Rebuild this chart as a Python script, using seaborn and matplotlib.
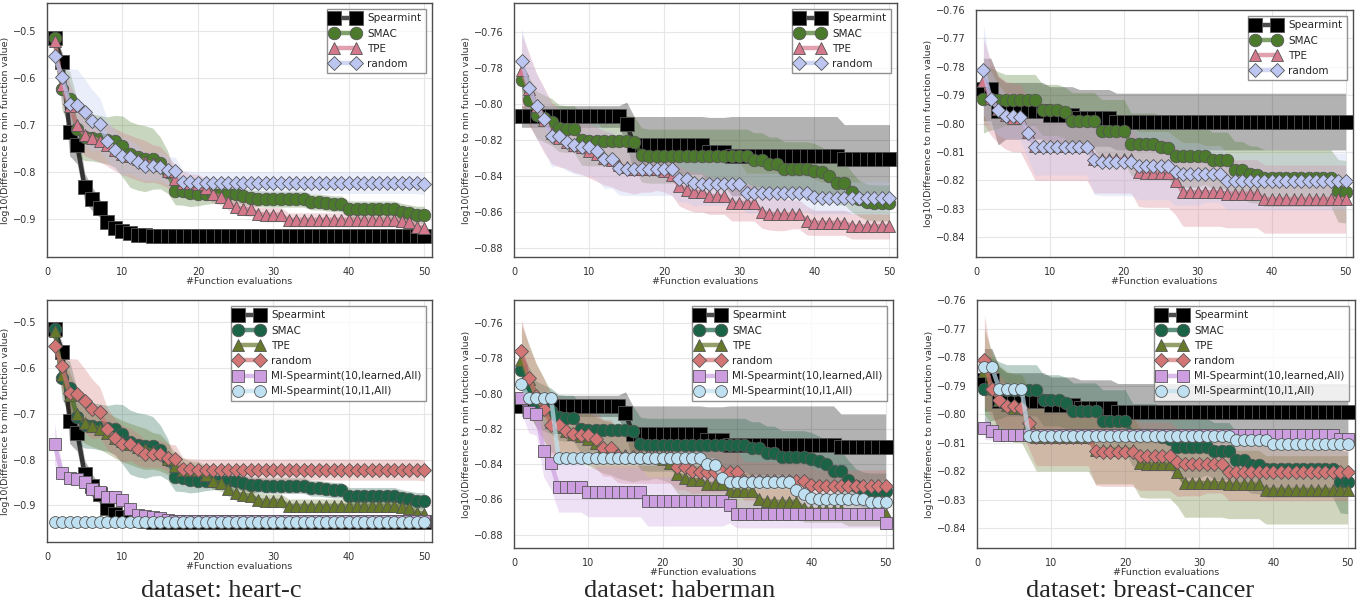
import matplotlib
matplotlib.use("Agg")
import matplotlib.pyplot as plt
import seaborn as sns
import numpy as np
from matplotlib.colors import to_rgba

# x axis: number of function evaluations
evals = list(range(1, 51))

# ---------------- heart-c ----------------
hc_spear = [
    -0.515, -0.565, -0.715, -0.742, -0.832, -0.857, -0.876, -0.905, -0.918, -0.925,
    -0.928, -0.933, -0.934, -0.936, -0.936, -0.936, -0.936, -0.936, -0.936, -0.936,
    -0.936, -0.936, -0.936, -0.936, -0.936, -0.936, -0.936, -0.936, -0.936, -0.936,
    -0.936, -0.936, -0.936, -0.936, -0.936, -0.936, -0.936, -0.936, -0.936, -0.936,
    -0.936, -0.936, -0.936, -0.936, -0.936, -0.936, -0.936, -0.936, -0.936, -0.936]
hc_spear_sd = [
    0.010, 0.020, 0.050, 0.040, 0.030, 0.025, 0.020, 0.015, 0.010, 0.008,
    0.006, 0.005, 0.004, 0.003, 0.003, 0.003, 0.003, 0.003, 0.003, 0.003,
    0.003, 0.003, 0.003, 0.003, 0.003, 0.003, 0.003, 0.003, 0.003, 0.003,
    0.003, 0.003, 0.003, 0.003, 0.003, 0.003, 0.003, 0.003, 0.003, 0.003,
    0.003, 0.003, 0.003, 0.003, 0.003, 0.003, 0.003, 0.003, 0.003, 0.003]
hc_smac = [
    -0.515, -0.623, -0.645, -0.707, -0.725, -0.726, -0.729, -0.732, -0.734, -0.745,
    -0.762, -0.768, -0.771, -0.771, -0.780, -0.800, -0.839, -0.840, -0.845, -0.846,
    -0.846, -0.846, -0.846, -0.847, -0.847, -0.851, -0.855, -0.856, -0.857, -0.857,
    -0.857, -0.857, -0.857, -0.857, -0.863, -0.863, -0.865, -0.867, -0.867, -0.879,
    -0.879, -0.879, -0.879, -0.879, -0.879, -0.879, -0.884, -0.887, -0.890, -0.890]
hc_smac_sd = [
    0.008, 0.045, 0.060, 0.060, 0.050, 0.050, 0.050, 0.050, 0.055, 0.065,
    0.070, 0.070, 0.070, 0.065, 0.055, 0.045, 0.030, 0.030, 0.028, 0.025,
    0.022, 0.020, 0.018, 0.018, 0.018, 0.018, 0.017, 0.017, 0.017, 0.017,
    0.017, 0.017, 0.017, 0.017, 0.017, 0.017, 0.017, 0.017, 0.017, 0.018,
    0.018, 0.018, 0.018, 0.018, 0.018, 0.018, 0.018, 0.018, 0.018, 0.018]
hc_tpe = [
    -0.520, -0.615, -0.660, -0.700, -0.720, -0.727, -0.733, -0.742, -0.752, -0.760,
    -0.766, -0.772, -0.777, -0.781, -0.785, -0.798, -0.815, -0.822, -0.823, -0.824,
    -0.833, -0.847, -0.852, -0.864, -0.874, -0.877, -0.879, -0.889, -0.890, -0.890,
    -0.890, -0.901, -0.901, -0.901, -0.901, -0.901, -0.901, -0.901, -0.901, -0.901,
    -0.901, -0.901, -0.901, -0.901, -0.901, -0.901, -0.904, -0.906, -0.916, -0.918]
hc_tpe_sd = [
    0.010, 0.040, 0.050, 0.050, 0.045, 0.045, 0.045, 0.045, 0.045, 0.045,
    0.045, 0.045, 0.045, 0.040, 0.040, 0.035, 0.030, 0.025, 0.020, 0.020,
    0.020, 0.018, 0.017, 0.016, 0.015, 0.015, 0.015, 0.015, 0.015, 0.015,
    0.015, 0.015, 0.015, 0.015, 0.015, 0.015, 0.015, 0.015, 0.015, 0.015,
    0.015, 0.015, 0.015, 0.015, 0.015, 0.015, 0.014, 0.013, 0.012, 0.012]
hc_random = [
    -0.553, -0.597, -0.655, -0.656, -0.672, -0.690, -0.697, -0.733, -0.752, -0.766,
    -0.767, -0.777, -0.787, -0.787, -0.788, -0.796, -0.798, -0.821, -0.821, -0.822,
    -0.822, -0.822, -0.822, -0.822, -0.822, -0.822, -0.822, -0.822, -0.822, -0.822,
    -0.822, -0.822, -0.822, -0.822, -0.822, -0.822, -0.822, -0.822, -0.822, -0.822,
    -0.822, -0.822, -0.822, -0.822, -0.822, -0.822, -0.822, -0.822, -0.822, -0.824]
hc_random_sd = [
    0.015, 0.050, 0.075, 0.075, 0.070, 0.065, 0.055, 0.045, 0.040, 0.040,
    0.035, 0.035, 0.030, 0.030, 0.030, 0.030, 0.030, 0.025, 0.023, 0.023,
    0.023, 0.023, 0.023, 0.023, 0.023, 0.023, 0.023, 0.023, 0.023, 0.023,
    0.023, 0.023, 0.023, 0.023, 0.023, 0.023, 0.023, 0.023, 0.023, 0.023,
    0.023, 0.023, 0.023, 0.023, 0.023, 0.023, 0.023, 0.023, 0.023, 0.023]
hc_mi_learned = [
    -0.767, -0.830, -0.840, -0.843, -0.850, -0.865, -0.872, -0.881, -0.882, -0.889,
    -0.909, -0.921, -0.923, -0.925, -0.928, -0.932, -0.934, -0.934, -0.934, -0.934,
    -0.934, -0.934, -0.934, -0.934, -0.934, -0.934, -0.934, -0.934, -0.934, -0.934,
    -0.934, -0.934, -0.934, -0.934, -0.934, -0.934, -0.934, -0.934, -0.934, -0.934,
    -0.934, -0.934, -0.934, -0.934, -0.934, -0.934, -0.934, -0.934, -0.934, -0.935]
hc_mi_learned_sd = [
    0.045, 0.015, 0.010, 0.010, 0.012, 0.012, 0.012, 0.014, 0.014, 0.014,
    0.010, 0.008, 0.006, 0.005, 0.004, 0.003, 0.003, 0.003, 0.003, 0.003,
    0.003, 0.003, 0.003, 0.003, 0.003, 0.003, 0.003, 0.003, 0.003, 0.003,
    0.003, 0.003, 0.003, 0.003, 0.003, 0.003, 0.003, 0.003, 0.003, 0.003,
    0.003, 0.003, 0.003, 0.003, 0.003, 0.003, 0.003, 0.003, 0.003, 0.003]
hc_mi_l1 = [
    -0.936, -0.936, -0.936, -0.936, -0.936, -0.936, -0.936, -0.936, -0.936, -0.936,
    -0.936, -0.936, -0.936, -0.936, -0.936, -0.936, -0.936, -0.936, -0.936, -0.936,
    -0.936, -0.936, -0.936, -0.936, -0.936, -0.936, -0.936, -0.936, -0.936, -0.936,
    -0.936, -0.936, -0.936, -0.936, -0.936, -0.936, -0.936, -0.936, -0.936, -0.936,
    -0.936, -0.936, -0.936, -0.936, -0.936, -0.936, -0.936, -0.936, -0.936, -0.936]
hc_mi_l1_sd = [
    0.001, 0.001, 0.001, 0.001, 0.001, 0.001, 0.001, 0.001, 0.001, 0.001,
    0.001, 0.001, 0.001, 0.001, 0.001, 0.001, 0.001, 0.001, 0.001, 0.001,
    0.001, 0.001, 0.001, 0.001, 0.001, 0.001, 0.001, 0.001, 0.001, 0.001,
    0.001, 0.001, 0.001, 0.001, 0.001, 0.001, 0.001, 0.001, 0.001, 0.001,
    0.001, 0.001, 0.001, 0.001, 0.001, 0.001, 0.001, 0.001, 0.001, 0.001]

# ---------------- haberman ----------------
hb_spear = [
    -0.807, -0.807, -0.807, -0.807, -0.807, -0.807, -0.807, -0.807, -0.807, -0.807,
    -0.807, -0.807, -0.807, -0.807, -0.811, -0.823, -0.823, -0.823, -0.823, -0.823,
    -0.823, -0.823, -0.823, -0.823, -0.823, -0.8265, -0.8265, -0.8265, -0.829, -0.829,
    -0.829, -0.829, -0.829, -0.829, -0.829, -0.829, -0.829, -0.829, -0.829, -0.829,
    -0.829, -0.829, -0.829, -0.8305, -0.8305, -0.8305, -0.8305, -0.8305, -0.8305, -0.8305]
hb_spear_sd = [
    0.006, 0.006, 0.006, 0.006, 0.006, 0.006, 0.006, 0.006, 0.006, 0.006,
    0.006, 0.006, 0.006, 0.006, 0.012, 0.016, 0.016, 0.016, 0.016, 0.016,
    0.016, 0.016, 0.016, 0.016, 0.016, 0.019, 0.019, 0.019, 0.022, 0.022,
    0.022, 0.022, 0.022, 0.022, 0.022, 0.022, 0.022, 0.022, 0.022, 0.022,
    0.022, 0.022, 0.022, 0.019, 0.019, 0.019, 0.019, 0.019, 0.019, 0.019]
hb_smac = [
    -0.7865, -0.798, -0.806, -0.808, -0.810, -0.8135, -0.814, -0.814, -0.820, -0.8204,
    -0.8204, -0.8204, -0.8204, -0.8204, -0.8204, -0.821, -0.8284, -0.829, -0.829, -0.829,
    -0.829, -0.829, -0.829, -0.829, -0.829, -0.829, -0.829, -0.829, -0.829, -0.829,
    -0.829, -0.831, -0.831, -0.8334, -0.8334, -0.836, -0.836, -0.836, -0.836, -0.837,
    -0.838, -0.840, -0.844, -0.844, -0.849, -0.8526, -0.8545, -0.855, -0.855, -0.855]
hb_smac_sd = [
    0.010, 0.013, 0.013, 0.013, 0.013, 0.013, 0.013, 0.013, 0.014, 0.014,
    0.014, 0.014, 0.014, 0.014, 0.014, 0.014, 0.015, 0.015, 0.015, 0.015,
    0.015, 0.015, 0.015, 0.015, 0.015, 0.015, 0.015, 0.015, 0.015, 0.015,
    0.015, 0.015, 0.015, 0.015, 0.015, 0.015, 0.015, 0.015, 0.015, 0.015,
    0.014, 0.013, 0.012, 0.012, 0.011, 0.010, 0.010, 0.010, 0.010, 0.010]
hb_tpe = [
    -0.781, -0.792, -0.801, -0.809, -0.816, -0.819, -0.821, -0.823, -0.824, -0.826,
    -0.828, -0.830, -0.831, -0.834, -0.835, -0.836, -0.836, -0.836, -0.836, -0.837,
    -0.8396, -0.8456, -0.8476, -0.849, -0.849, -0.8513, -0.8513, -0.8513, -0.855, -0.855,
    -0.855, -0.855, -0.860, -0.861, -0.8614, -0.8614, -0.8614, -0.8614, -0.8648, -0.866,
    -0.866, -0.866, -0.866, -0.866, -0.868, -0.868, -0.868, -0.868, -0.868, -0.868]
hb_tpe_sd = [
    0.020, 0.020, 0.018, 0.018, 0.017, 0.016, 0.015, 0.015, 0.015, 0.015,
    0.015, 0.015, 0.015, 0.014, 0.014, 0.014, 0.013, 0.013, 0.012, 0.012,
    0.011, 0.011, 0.011, 0.011, 0.011, 0.010, 0.010, 0.010, 0.010, 0.010,
    0.010, 0.010, 0.009, 0.009, 0.009, 0.009, 0.008, 0.008, 0.008, 0.007,
    0.007, 0.007, 0.007, 0.007, 0.007, 0.007, 0.007, 0.007, 0.007, 0.007]
hb_random = [
    -0.776, -0.791, -0.8014, -0.8085, -0.818, -0.818, -0.821, -0.8228, -0.8237, -0.8237,
    -0.826, -0.8308, -0.8308, -0.8355, -0.8359, -0.8359, -0.8359, -0.8359, -0.8359, -0.8359,
    -0.8359, -0.8415, -0.8415, -0.8437, -0.8443, -0.8443, -0.8443, -0.8443, -0.8443, -0.8443,
    -0.8495, -0.8495, -0.8495, -0.8495, -0.8495, -0.8495, -0.8495, -0.8495, -0.8497, -0.8517,
    -0.8523, -0.8523, -0.8523, -0.8523, -0.8523, -0.8523, -0.8523, -0.8523, -0.8523, -0.8523]
hb_random_sd = [
    0.018, 0.018, 0.018, 0.017, 0.017, 0.016, 0.016, 0.016, 0.016, 0.016,
    0.016, 0.016, 0.016, 0.015, 0.015, 0.015, 0.015, 0.015, 0.015, 0.015,
    0.015, 0.013, 0.013, 0.013, 0.012, 0.012, 0.012, 0.012, 0.012, 0.012,
    0.011, 0.011, 0.011, 0.011, 0.011, 0.010, 0.010, 0.010, 0.010, 0.010,
    0.009, 0.009, 0.009, 0.009, 0.009, 0.009, 0.009, 0.009, 0.009, 0.009]
hb_mi_learned = [
    -0.8027, -0.8103, -0.8116, -0.8323, -0.8395, -0.8532, -0.8532, -0.8532, -0.8532, -0.8558,
    -0.8558, -0.8558, -0.8558, -0.8558, -0.8558, -0.8558, -0.8558, -0.8611, -0.8611, -0.8611,
    -0.8611, -0.8611, -0.8611, -0.8611, -0.8611, -0.8611, -0.8611, -0.8611, -0.8634, -0.8681,
    -0.8681, -0.8681, -0.8681, -0.8681, -0.8681, -0.8681, -0.8681, -0.8681, -0.8681, -0.8681,
    -0.8681, -0.8681, -0.8681, -0.8681, -0.8681, -0.8681, -0.8681, -0.8681, -0.8681, -0.8734]
hb_mi_learned_sd = [
    0.008, 0.012, 0.012, 0.015, 0.015, 0.014, 0.014, 0.014, 0.014, 0.014,
    0.014, 0.014, 0.014, 0.014, 0.014, 0.014, 0.014, 0.014, 0.014, 0.014,
    0.014, 0.014, 0.014, 0.014, 0.014, 0.014, 0.014, 0.014, 0.010, 0.008,
    0.008, 0.008, 0.008, 0.008, 0.008, 0.008, 0.008, 0.008, 0.008, 0.008,
    0.008, 0.008, 0.008, 0.008, 0.008, 0.008, 0.008, 0.008, 0.008, 0.004]
hb_mi_l1 = [
    -0.7948, -0.8027, -0.8027, -0.8027, -0.8027, -0.8367, -0.8367, -0.8367, -0.8367, -0.8367,
    -0.8367, -0.8367, -0.8367, -0.8367, -0.8367, -0.8367, -0.8367, -0.8367, -0.8367, -0.8367,
    -0.8367, -0.8367, -0.8367, -0.8367, -0.8367, -0.8400, -0.8404, -0.8476, -0.8500, -0.8500,
    -0.8500, -0.8500, -0.8500, -0.8500, -0.8500, -0.8500, -0.8500, -0.8545, -0.8570, -0.8592,
    -0.8596, -0.8596, -0.8596, -0.8596, -0.8596, -0.8596, -0.8596, -0.8615, -0.8615, -0.8615]
hb_mi_l1_sd = [
    0.004, 0.004, 0.004, 0.004, 0.004, 0.004, 0.004, 0.004, 0.004, 0.004,
    0.004, 0.004, 0.004, 0.004, 0.004, 0.004, 0.004, 0.004, 0.004, 0.004,
    0.004, 0.004, 0.004, 0.004, 0.004, 0.004, 0.004, 0.004, 0.004, 0.004,
    0.004, 0.004, 0.004, 0.004, 0.004, 0.004, 0.004, 0.004, 0.004, 0.004,
    0.004, 0.004, 0.004, 0.004, 0.004, 0.004, 0.004, 0.004, 0.004, 0.004]

# ---------------- breast-cancer ----------------
bc_spear = [
    -0.788, -0.788, -0.7955, -0.7955, -0.7955, -0.7955, -0.7955, -0.7955, -0.7955, -0.797,
    -0.797, -0.797, -0.797, -0.798, -0.798, -0.798, -0.798, -0.798, -0.7993, -0.7993,
    -0.7993, -0.7993, -0.7993, -0.7993, -0.7993, -0.7993, -0.7993, -0.7993, -0.7993, -0.7993,
    -0.7993, -0.7993, -0.7993, -0.7993, -0.7993, -0.7993, -0.7993, -0.7993, -0.7993, -0.7993,
    -0.7993, -0.7993, -0.7993, -0.7993, -0.7993, -0.7993, -0.7993, -0.7993, -0.7993, -0.7993]
bc_spear_sd = [
    0.011, 0.011, 0.012, 0.010, 0.010, 0.010, 0.010, 0.010, 0.010, 0.010,
    0.010, 0.010, 0.010, 0.010, 0.010, 0.010, 0.010, 0.010, 0.010, 0.010,
    0.010, 0.010, 0.010, 0.010, 0.010, 0.010, 0.010, 0.010, 0.010, 0.010,
    0.010, 0.010, 0.010, 0.010, 0.010, 0.010, 0.010, 0.010, 0.010, 0.010,
    0.010, 0.010, 0.010, 0.010, 0.010, 0.010, 0.010, 0.010, 0.010, 0.010]
bc_smac = [
    -0.7913, -0.7913, -0.7917, -0.7917, -0.7917, -0.7917, -0.7917, -0.7917, -0.7952, -0.7952,
    -0.7952, -0.7961, -0.7991, -0.7991, -0.7991, -0.7991, -0.8025, -0.8025, -0.8025, -0.8025,
    -0.8073, -0.8073, -0.8073, -0.8073, -0.8081, -0.8087, -0.8114, -0.8114, -0.8114, -0.8114,
    -0.8114, -0.8130, -0.8130, -0.8130, -0.8163, -0.8163, -0.8178, -0.8180, -0.8192, -0.8192,
    -0.8192, -0.8192, -0.8192, -0.8192, -0.8192, -0.8192, -0.8192, -0.8192, -0.8237, -0.8240]
bc_smac_sd = [
    0.012, 0.011, 0.010, 0.009, 0.009, 0.009, 0.009, 0.009, 0.009, 0.009,
    0.009, 0.009, 0.010, 0.010, 0.010, 0.010, 0.011, 0.011, 0.011, 0.011,
    0.011, 0.011, 0.011, 0.011, 0.011, 0.011, 0.011, 0.011, 0.011, 0.011,
    0.010, 0.010, 0.010, 0.010, 0.010, 0.010, 0.010, 0.010, 0.010, 0.010,
    0.010, 0.010, 0.010, 0.010, 0.010, 0.010, 0.010, 0.010, 0.011, 0.011]
bc_tpe = [
    -0.785, -0.791, -0.795, -0.797, -0.798, -0.798, -0.803, -0.808, -0.808, -0.808,
    -0.808, -0.808, -0.808, -0.808, -0.808, -0.8125, -0.8125, -0.8125, -0.8125, -0.8125,
    -0.8125, -0.8172, -0.8175, -0.8175, -0.8175, -0.8175, -0.8202, -0.8242, -0.8242, -0.8242,
    -0.8242, -0.8242, -0.8242, -0.8247, -0.8247, -0.8247, -0.8247, -0.8247, -0.8266, -0.8266,
    -0.8266, -0.8266, -0.8266, -0.8266, -0.8266, -0.8266, -0.8266, -0.8266, -0.8266, -0.8266]
bc_tpe_sd = [
    0.015, 0.013, 0.012, 0.012, 0.012, 0.012, 0.012, 0.012, 0.012, 0.012,
    0.012, 0.012, 0.012, 0.012, 0.012, 0.012, 0.012, 0.012, 0.012, 0.012,
    0.012, 0.012, 0.012, 0.012, 0.012, 0.012, 0.012, 0.012, 0.012, 0.012,
    0.012, 0.012, 0.012, 0.012, 0.012, 0.012, 0.012, 0.012, 0.012, 0.012,
    0.012, 0.012, 0.012, 0.012, 0.012, 0.012, 0.012, 0.012, 0.012, 0.012]
bc_random = [
    -0.7811, -0.7913, -0.7952, -0.7973, -0.7973, -0.7978, -0.8032, -0.8081, -0.8081, -0.8081,
    -0.8081, -0.8081, -0.8081, -0.8081, -0.8081, -0.8130, -0.8134, -0.8134, -0.8134, -0.8134,
    -0.8134, -0.8148, -0.8148, -0.8148, -0.8148, -0.8148, -0.8169, -0.8177, -0.8177, -0.8177,
    -0.8177, -0.8177, -0.8177, -0.8204, -0.8204, -0.8204, -0.8204, -0.8204, -0.8204, -0.8204,
    -0.8204, -0.8204, -0.8204, -0.8204, -0.8204, -0.8204, -0.8204, -0.8204, -0.8204, -0.8204]
bc_random_sd = [
    0.016, 0.010, 0.009, 0.008, 0.008, 0.008, 0.009, 0.010, 0.010, 0.010,
    0.010, 0.010, 0.010, 0.010, 0.010, 0.012, 0.012, 0.012, 0.012, 0.012,
    0.012, 0.012, 0.012, 0.012, 0.012, 0.012, 0.012, 0.011, 0.011, 0.011,
    0.010, 0.010, 0.010, 0.010, 0.010, 0.010, 0.010, 0.010, 0.010, 0.010,
    0.010, 0.010, 0.010, 0.010, 0.010, 0.010, 0.010, 0.010, 0.010, 0.010]
bc_mi_learned = [
    -0.8049, -0.8061, -0.8075, -0.8075, -0.8075, -0.8075, -0.8075, -0.8075, -0.8075, -0.8075,
    -0.8075, -0.8075, -0.8075, -0.8075, -0.8075, -0.8075, -0.8075, -0.8075, -0.8075, -0.8075,
    -0.8075, -0.8075, -0.8075, -0.8075, -0.8075, -0.8075, -0.8075, -0.8075, -0.8075, -0.8075,
    -0.8075, -0.8075, -0.8075, -0.8075, -0.8075, -0.8075, -0.8075, -0.8075, -0.8075, -0.8075,
    -0.8075, -0.8075, -0.8075, -0.8075, -0.8075, -0.8075, -0.8075, -0.8075, -0.8087, -0.8087]
bc_mi_learned_sd = [
    0.004, 0.003, 0.002, 0.002, 0.002, 0.002, 0.002, 0.002, 0.002, 0.002,
    0.002, 0.002, 0.002, 0.002, 0.002, 0.002, 0.002, 0.002, 0.002, 0.002,
    0.002, 0.002, 0.002, 0.002, 0.002, 0.002, 0.002, 0.002, 0.002, 0.002,
    0.002, 0.002, 0.002, 0.002, 0.002, 0.002, 0.002, 0.002, 0.002, 0.002,
    0.002, 0.002, 0.002, 0.002, 0.002, 0.002, 0.002, 0.002, 0.002, 0.002]
bc_mi_l1 = [
    -0.7835, -0.7835, -0.7911, -0.7911, -0.7911, -0.7911, -0.8076, -0.8076, -0.8076, -0.8076,
    -0.8076, -0.8076, -0.8076, -0.8076, -0.8076, -0.8076, -0.8076, -0.8076, -0.8076, -0.8076,
    -0.8076, -0.8076, -0.8076, -0.8076, -0.8076, -0.8076, -0.8076, -0.8076, -0.8076, -0.8076,
    -0.8076, -0.8076, -0.8076, -0.8076, -0.8092, -0.8092, -0.8092, -0.8092, -0.8092, -0.8105,
    -0.8105, -0.8105, -0.8105, -0.8105, -0.8105, -0.8105, -0.8105, -0.8105, -0.8105, -0.8105]
bc_mi_l1_sd = [
    0.002, 0.002, 0.002, 0.002, 0.002, 0.002, 0.002, 0.002, 0.002, 0.002,
    0.002, 0.002, 0.002, 0.002, 0.002, 0.002, 0.002, 0.002, 0.002, 0.002,
    0.002, 0.002, 0.002, 0.002, 0.002, 0.002, 0.002, 0.002, 0.002, 0.002,
    0.002, 0.002, 0.002, 0.002, 0.002, 0.002, 0.002, 0.002, 0.002, 0.002,
    0.002, 0.002, 0.002, 0.002, 0.002, 0.002, 0.002, 0.002, 0.002, 0.002]

methods_top = ["Spearmint", "SMAC", "TPE", "random"]
methods_bottom = ["Spearmint", "SMAC", "TPE", "random",
                  "MI-Spearmint(10,learned,All)", "MI-Spearmint(10,l1,All)"]

datasets = ["heart-c", "haberman", "breast-cancer"]
runs = {
    "heart-c": {
        "Spearmint": (hc_spear, hc_spear_sd), "SMAC": (hc_smac, hc_smac_sd),
        "TPE": (hc_tpe, hc_tpe_sd), "random": (hc_random, hc_random_sd),
        "MI-Spearmint(10,learned,All)": (hc_mi_learned, hc_mi_learned_sd),
        "MI-Spearmint(10,l1,All)": (hc_mi_l1, hc_mi_l1_sd)},
    "haberman": {
        "Spearmint": (hb_spear, hb_spear_sd), "SMAC": (hb_smac, hb_smac_sd),
        "TPE": (hb_tpe, hb_tpe_sd), "random": (hb_random, hb_random_sd),
        "MI-Spearmint(10,learned,All)": (hb_mi_learned, hb_mi_learned_sd),
        "MI-Spearmint(10,l1,All)": (hb_mi_l1, hb_mi_l1_sd)},
    "breast-cancer": {
        "Spearmint": (bc_spear, bc_spear_sd), "SMAC": (bc_smac, bc_smac_sd),
        "TPE": (bc_tpe, bc_tpe_sd), "random": (bc_random, bc_random_sd),
        "MI-Spearmint(10,learned,All)": (bc_mi_learned, bc_mi_learned_sd),
        "MI-Spearmint(10,l1,All)": (bc_mi_l1, bc_mi_l1_sd)},
}

yticks_hc = [-0.9, -0.8, -0.7, -0.6, -0.5]
yticks_hb = [-0.88, -0.86, -0.84, -0.82, -0.80, -0.78, -0.76]
yticks_bc = [-0.84, -0.83, -0.82, -0.81, -0.80, -0.79, -0.78, -0.77, -0.76]
xticks = [0, 10, 20, 30, 40, 50]

colors_top = {"Spearmint": "#000000", "SMAC": "#4b7a2c", "TPE": "#d4788c", "random": "#bcc6f0"}
colors_bottom = {"Spearmint": "#000000", "SMAC": "#1a6347", "TPE": "#66782a", "random": "#d27575",
                 "MI-Spearmint(10,learned,All)": "#cc9ee0", "MI-Spearmint(10,l1,All)": "#bfe0f0"}
markers = {"Spearmint": "s", "SMAC": "o", "TPE": "^", "random": "D",
           "MI-Spearmint(10,learned,All)": "s", "MI-Spearmint(10,l1,All)": "o"}
msizes = {"Spearmint": 9.5, "SMAC": 9, "TPE": 9, "random": 7.5,
          "MI-Spearmint(10,learned,All)": 8.5, "MI-Spearmint(10,l1,All)": 8.5}

sns.set_theme(style="whitegrid")
plt.rcParams["font.family"] = ["DejaVu Sans"]
plt.rcParams.update({
    "axes.edgecolor": "#4d4d4d", "axes.linewidth": 1.0,
    "grid.color": "#e6e6e6", "grid.linewidth": 0.8,
    "xtick.labelsize": 7, "ytick.labelsize": 7,
    "xtick.color": "#333333", "ytick.color": "#333333",
    "axes.labelcolor": "#333333",
})

W, H = 1364, 612
fig = plt.figure(figsize=(W / 100, H / 100), dpi=100)


def box(left, right, top, bottom):
    return [left / W, 1 - bottom / H, (right - left) / W, (bottom - top) / H]


def draw_panel(ax, data, names, colors, ylim, yticks):
    for name in names:
        mean, sd = data[name]
        lo = [m - s for m, s in zip(mean, sd)]
        hi = [m + s for m, s in zip(mean, sd)]
        ax.fill_between(evals, lo, hi, color=colors[name], alpha=0.3, linewidth=0, zorder=1)
    for i, name in enumerate(names):
        mean, _ = data[name]
        sns.lineplot(x=evals, y=mean, ax=ax, color=to_rgba(colors[name], 0.7),
                     linewidth=3.2, marker=markers[name], markersize=msizes[name],
                     markerfacecolor=colors[name], markeredgecolor="#555555",
                     markeredgewidth=0.6, label=name, zorder=3 + i)
    ax.set_xlim(0, 51)
    ax.set_ylim(*ylim)
    ax.set_xticks(xticks)
    ax.set_yticks(yticks)
    ax.set_xlabel("#Function evaluations", fontsize=6.8, labelpad=0)
    ax.set_ylabel("log10(Difference to min function value)", fontsize=6.8, labelpad=2)
    ax.tick_params(axis="both", pad=1.5)
    handles, labels = ax.get_legend_handles_labels()
    ax.legend(handles, labels, loc="upper right", numpoints=2, fontsize=7.5,
              fancybox=False, edgecolor="#777777", framealpha=0.8,
              handlelength=2.7, borderaxespad=0.6, borderpad=0.4)


top_boxes = [box(47, 432, 3, 257), box(514, 897, 3, 257), box(976, 1353, 10, 257)]
bottom_boxes = [box(47, 432, 300, 542), box(514, 893, 300, 548), box(977, 1355, 300, 548)]
top_ylims = [(-0.98, -0.44), (-0.885, -0.744), (-0.847, -0.76)]
bottom_ylims = [(-0.98, -0.452), (-0.8875, -0.747), (-0.847, -0.76)]
yticks_all = [yticks_hc, yticks_hb, yticks_bc]
caption_x = [221, 680, 1140]

for k, ds in enumerate(datasets):
    ax = fig.add_axes(top_boxes[k])
    draw_panel(ax, runs[ds], methods_top, colors_top, top_ylims[k], yticks_all[k])
    ax = fig.add_axes(bottom_boxes[k])
    draw_panel(ax, runs[ds], methods_bottom, colors_bottom, bottom_ylims[k], yticks_all[k])
    fig.text(caption_x[k] / W, 1 - 591 / H, "dataset: " + ds, ha="center", va="center",
             fontsize=19, family="Liberation Serif")

fig.savefig("out.png", dpi=100)
